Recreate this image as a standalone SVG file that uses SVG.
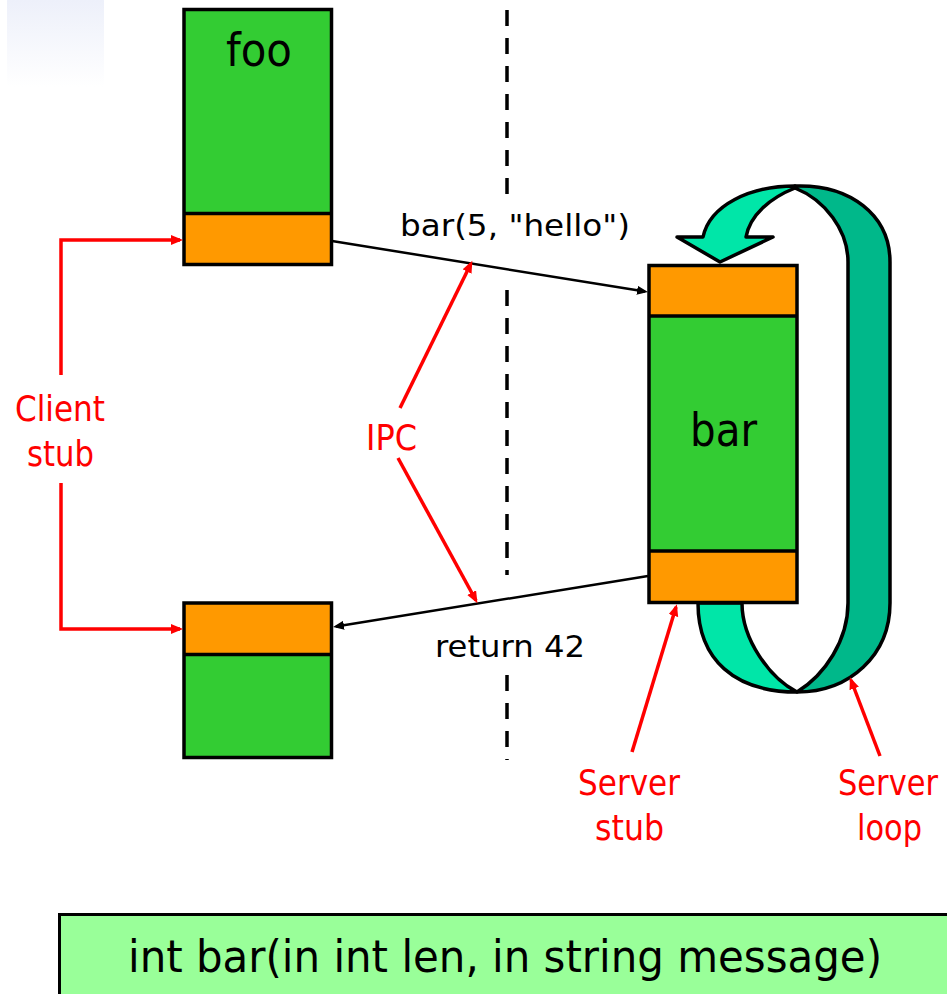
<svg xmlns="http://www.w3.org/2000/svg" width="947" height="994" viewBox="0 0 947 994">
<style>
.t{font-family:"DejaVu Sans","Liberation Sans",sans-serif;fill:#000}
.r{font-family:"DejaVu Sans","Liberation Sans",sans-serif;fill:#ff0000;font-size:36px}
.box{stroke:#000;stroke-width:3.5}
.g{fill:#33cc33}
.o{fill:#ff9900}
.red{stroke:#ff0000;stroke-width:3.5;fill:none}
.blk{stroke:#000;stroke-width:2.5;fill:none}
.dash{stroke:#000;stroke-width:3.5;stroke-dasharray:16 12}
.band{stroke:#000;stroke-width:3.5;stroke-linejoin:round}
</style>
<defs>
<linearGradient id="fade" x1="0" y1="0" x2="0" y2="1">
<stop offset="0" stop-color="#edf0fa"/>
<stop offset="1" stop-color="#ffffff"/>
</linearGradient>
<marker id="ra" markerUnits="userSpaceOnUse" markerWidth="14" markerHeight="12" refX="9" refY="5" orient="auto">
<path d="M0,0 L12,5 L0,10 z" fill="#ff0000"/>
</marker>
<marker id="ba" markerUnits="userSpaceOnUse" markerWidth="14" markerHeight="12" refX="8" refY="4.5" orient="auto">
<path d="M0,0 L11,4.5 L0,9 z" fill="#000"/>
</marker>
</defs>
<rect x="7" y="0" width="97" height="87" fill="url(#fade)"/>

<g id="loop">
<path class="band" fill="#00b88a" d="M795,186 C850,184 890,215 890,262 L890,603 C890,655 850,692 797,692 C825,675 848,640 848,603 L848,262 C848,230 825,200 795,188 Z"/>
<path class="band" fill="#00e6a8" d="M698,603 C698,660 735,692 797,692 C770,678 742,640 742,603 Z"/>
<path class="band" fill="#00e6a8" stroke-linejoin="miter" d="M795,186 C750,186 710,205 703,237 L677,237 L720,262 L773,237 L746,237 C750,215 770,198 795,188 Z"/>
</g>

<g id="divider">
<line class="dash" x1="507" y1="10" x2="507" y2="194"/>
<line class="dash" x1="507" y1="290" x2="507" y2="575"/>
<line class="dash" x1="507" y1="675" x2="507" y2="760"/>
</g>

<g id="foo">
<rect class="g" x="184" y="9.5" width="147.5" height="204"/>
<rect class="o" x="184" y="213.5" width="147.5" height="51"/>
<line class="box" x1="184" y1="213.5" x2="331.5" y2="213.5"/>
<rect class="box" x="184" y="9.5" width="147.5" height="255" fill="none"/>
<text class="t" x="226" y="66" font-size="47" textLength="66" lengthAdjust="spacingAndGlyphs">foo</text>
</g>

<g id="client-return">
<rect class="o" x="184" y="603" width="147.5" height="51.5"/>
<rect class="g" x="184" y="654.5" width="147.5" height="103"/>
<line class="box" x1="184" y1="654.5" x2="331.5" y2="654.5"/>
<rect class="box" x="184" y="603" width="147.5" height="154.5" fill="none"/>
</g>

<g id="bar">
<rect class="o" x="649" y="265.5" width="148" height="50.5"/>
<rect class="g" x="649" y="316" width="148" height="235"/>
<rect class="o" x="649" y="551" width="148" height="51.5"/>
<line class="box" x1="649" y1="316" x2="797" y2="316"/>
<line class="box" x1="649" y1="551" x2="797" y2="551"/>
<rect class="box" x="649" y="265.5" width="148" height="337" fill="none"/>
<text class="t" x="690" y="446" font-size="47" textLength="67" lengthAdjust="spacingAndGlyphs">bar</text>
</g>

<g id="connectors">
<line class="blk" x1="332" y1="241" x2="645" y2="291.5" marker-end="url(#ba)"/>
<line class="blk" x1="648" y1="576" x2="336" y2="626.5" marker-end="url(#ba)"/>
<polyline class="red" points="61,375 61,240 180,240" marker-end="url(#ra)"/>
<polyline class="red" points="61,483 61,629 180,629" marker-end="url(#ra)"/>
<line class="red" x1="400" y1="408" x2="471" y2="263.5" marker-end="url(#ra)"/>
<line class="red" x1="398" y1="458" x2="476" y2="600.5" marker-end="url(#ra)"/>
<line class="red" x1="632" y1="752" x2="676" y2="607" marker-end="url(#ra)"/>
<line class="red" x1="880" y1="756" x2="851" y2="680" marker-end="url(#ra)"/>
</g>

<g id="labels">
<text class="t" x="400" y="236" font-size="31" textLength="230" lengthAdjust="spacingAndGlyphs">bar(5, "hello")</text>
<text class="t" x="435" y="657" font-size="31" textLength="150" lengthAdjust="spacingAndGlyphs">return 42</text>
<text class="r" x="15" y="421" textLength="90" lengthAdjust="spacingAndGlyphs">Client</text>
<text class="r" x="27" y="466" textLength="67" lengthAdjust="spacingAndGlyphs">stub</text>
<text class="r" x="366" y="450" textLength="51" lengthAdjust="spacingAndGlyphs">IPC</text>
<text class="r" x="578" y="795" textLength="102" lengthAdjust="spacingAndGlyphs">Server</text>
<text class="r" x="595" y="840" textLength="69" lengthAdjust="spacingAndGlyphs">stub</text>
<text class="r" x="838" y="795" textLength="100" lengthAdjust="spacingAndGlyphs">Server</text>
<text class="r" x="857" y="840" textLength="65" lengthAdjust="spacingAndGlyphs">loop</text>
</g>

<g id="signature">
<rect x="59.5" y="914.5" width="900" height="100" fill="#99ff99" stroke="#000" stroke-width="3"/>
<text class="t" x="128" y="972" font-size="44" textLength="754" lengthAdjust="spacingAndGlyphs">int bar(in int len, in string message)</text>
</g>
</svg>
